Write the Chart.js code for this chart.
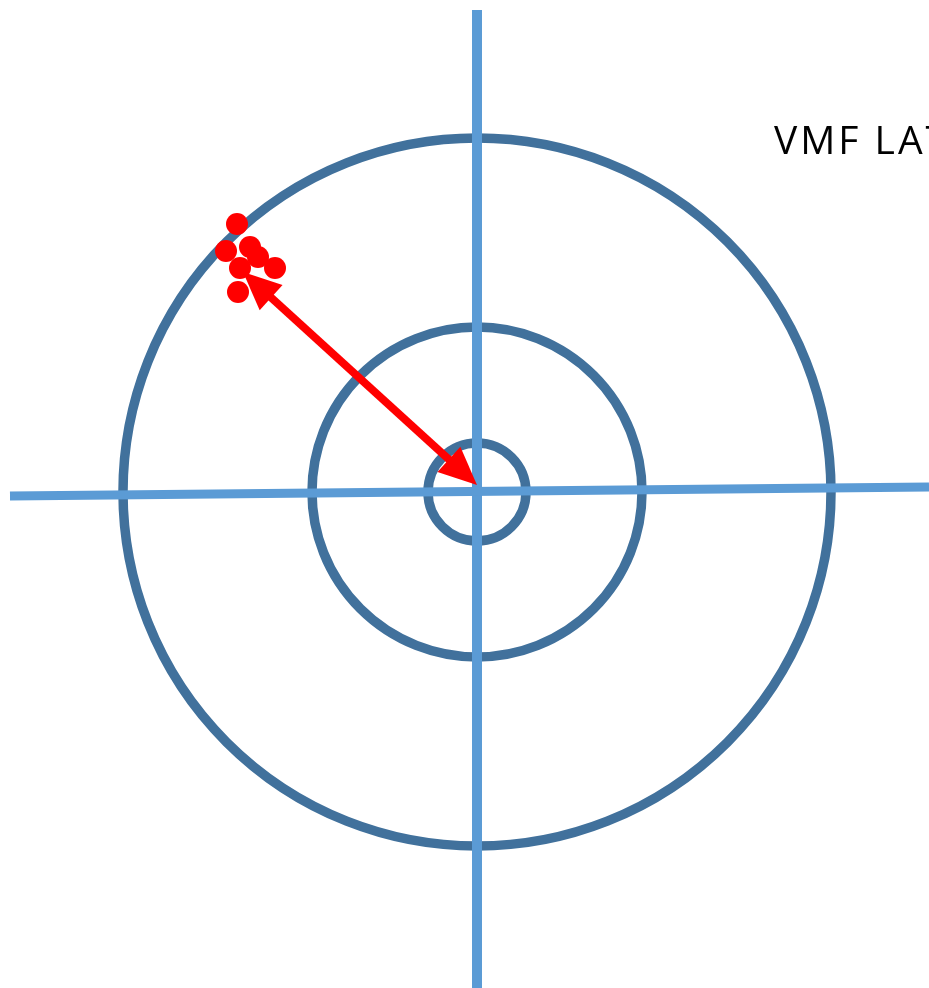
<!DOCTYPE html>
<html>
<head>
<meta charset="utf-8">
<script src="https://cdn.jsdelivr.net/npm/chart.js@4/dist/chart.umd.min.js"></script>
<style>
  html, body { margin: 0; padding: 0; background: #fff; overflow: hidden; }
  #wrap { position: relative; width: 929px; height: 988px; overflow: hidden; }
  #label { position: absolute; left: 774px; top: 112px; font-family: "Open Sans", sans-serif;
           font-size: 39px; letter-spacing: 3px; color: #000; white-space: nowrap; }
</style>
</head>
<body>
<div id="wrap">
  <canvas id="target" width="929" height="988"></canvas>
  <div id="label">VMF LAT</div>
</div>
<script>
// target rings (radius, same units as the axes)
var ringRadii = [49, 165, 354];

// crosshair ends
var hLine = [{x: -467, y: -4}, {x: 452, y: 5}];
var vLine = [{x: 0, y: 482}, {x: 0, y: -496}];

// red shots
var shotX = [-240, -251, -227, -219, -237, -202, -239];
var shotY = [268, 241, 245, 235, 224, 224, 200];

// arrow from shot group to centre
var arrowPts = [{x: -234, y: 220}, {x: 0, y: 7}];

var shots = [];
for (var i = 0; i < shotX.length; i++) {
    shots.push({x: shotX[i], y: shotY[i]});
}

// rings are drawn under the datasets
var ringPlugin = {
    id: 'rings',
    beforeDatasetsDraw: function(chart) {
        var ctx = chart.ctx, xs = chart.scales.x, ys = chart.scales.y;
        var cx = xs.getPixelForValue(0), cy = ys.getPixelForValue(0);
        ctx.save();
        ctx.strokeStyle = '#41719c';
        ctx.lineWidth = 9.5;
        ringRadii.forEach(function(r) {
            var rx = xs.getPixelForValue(r) - cx;
            var ry = cy - ys.getPixelForValue(r);
            ctx.beginPath();
            ctx.ellipse(cx, cy, rx, ry, 0, 0, Math.PI * 2);
            ctx.stroke();
        });
        ctx.restore();
    }
};

// double headed arrow on top
var arrowPlugin = {
    id: 'arrow',
    afterDatasetsDraw: function(chart) {
        chart.data.datasets.forEach(function(ds, di) {
            if (!ds.arrow) return;
            var pts = chart.getDatasetMeta(di).data;
            var a = pts[0], b = pts[1];
            var ang = Math.atan2(b.y - a.y, b.x - a.x);
            var len = 38, half = 17;
            var ctx = chart.ctx;
            ctx.save();
            ctx.strokeStyle = ds.arrowColor;
            ctx.fillStyle = ds.arrowColor;
            ctx.lineWidth = 8;
            ctx.beginPath();
            ctx.moveTo(a.x + Math.cos(ang) * (len - 4), a.y + Math.sin(ang) * (len - 4));
            ctx.lineTo(b.x - Math.cos(ang) * (len - 4), b.y - Math.sin(ang) * (len - 4));
            ctx.stroke();
            [[b, ang], [a, ang + Math.PI]].forEach(function(h) {
                var p = h[0], t = h[1];
                ctx.beginPath();
                ctx.moveTo(p.x, p.y);
                ctx.lineTo(p.x - Math.cos(t) * len - Math.sin(t) * half, p.y - Math.sin(t) * len + Math.cos(t) * half);
                ctx.lineTo(p.x - Math.cos(t) * len + Math.sin(t) * half, p.y - Math.sin(t) * len - Math.cos(t) * half);
                ctx.closePath();
                ctx.fill();
            });
            ctx.restore();
        });
    }
};

var targetConfig = {
    type: 'scatter',
    data: {
        datasets: [{
            data: shots,
            backgroundColor: '#ff0000',
            borderWidth: 0,
            pointRadius: 11,
            order: 3
        }, {
            data: hLine,
            showLine: true,
            borderColor: '#5b9bd5',
            borderWidth: 9,
            pointRadius: 0,
            order: 4
        }, {
            data: vLine,
            showLine: true,
            borderColor: '#5b9bd5',
            borderWidth: 10,
            pointRadius: 0,
            order: 4
        }, {
            data: arrowPts,
            showLine: false,
            pointRadius: 0,
            arrow: true,
            arrowColor: '#ff0000',
            order: 1
        }]
    },
    options: {
        responsive: false,
        animation: false,
        layout: { padding: 0, autoPadding: false },
        scales: {
            x: { type: 'linear', display: false, min: -477, max: 452 },
            y: { type: 'linear', display: false, min: -496, max: 492 }
        },
        plugins: {
            legend: { display: false },
            tooltip: { enabled: false }
        }
    },
    plugins: [ringPlugin, arrowPlugin]
};

var targetCtx = document.getElementById("target");
var targetChart = new Chart(targetCtx, targetConfig);
</script>
</body>
</html>
